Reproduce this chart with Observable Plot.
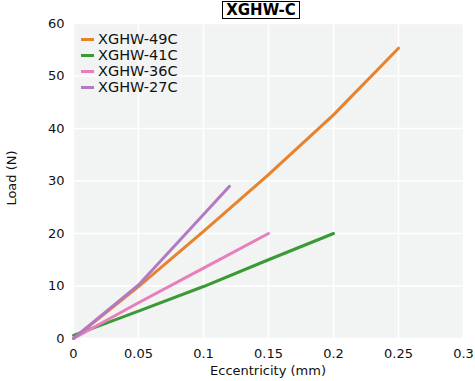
<!DOCTYPE html>
<html>
<head>
<meta charset="utf-8">
<script src="https://cdn.jsdelivr.net/npm/d3@7"></script>
<script src="https://cdn.jsdelivr.net/npm/@observablehq/plot@0.6"></script>
<style>
  html, body { margin: 0; padding: 0; background: white; }
  #wrap { position: relative; width: 475px; height: 381px; font-family: "DejaVu Sans", sans-serif; }
  #title { position: absolute; top: 1px; left: 222px; width: 76px; height: 16px; border: 1px solid #000;
           font: bold 15px "DejaVu Sans", sans-serif; line-height: 16px; text-align: center; color: #000; }
  #legend { position: absolute; left: 81px; top: 31px; font: 14.5px "DejaVu Sans", sans-serif; color: #111; }
  .row { height: 16px; line-height: 16px; display: flex; align-items: center; white-space: nowrap; }
  .sw { width: 13px; height: 3px; margin-right: 4px; }
  #xlabel { position: absolute; top: 363px; left: 73px; width: 390px; text-align: center; font: 13px "DejaVu Sans", sans-serif; color: #111; }
  #ylabel { position: absolute; left: 11px; top: 178px; transform: translate(-50%, -50%) rotate(-90deg); font: 13px "DejaVu Sans", sans-serif; color: #111; white-space: nowrap; }
</style>
</head>
<body>
<div id="wrap"></div>
<script>
const seriesNames = ["XGHW-49C", "XGHW-41C", "XGHW-36C", "XGHW-27C"];
const seriesColors = ["#e8822b", "#3a9a34", "#e87fbd", "#b27ac4"];

const ecc49 = [0, 0.05, 0.1, 0.15, 0.2, 0.25];
const load49 = [0, 9.9, 20.4, 31.2, 42.6, 55.3];
const ecc41 = [0, 0.05, 0.1, 0.15, 0.2];
const load41 = [0.6, 5.2, 9.9, 15.0, 20.0];
const ecc36 = [0, 0.05, 0.1, 0.15];
const load36 = [0, 6.8, 13.4, 20.0];
const ecc27 = [0, 0.05, 0.1, 0.12];
const load27 = [0, 10.2, 23.6, 29.0];

const xTicks = [0, 0.05, 0.1, 0.15, 0.2, 0.25, 0.3];
const yTicks = [0, 10, 20, 30, 40, 50, 60];
const titleText = "XGHW-C";
const xLabel = "Eccentricity (mm)";
const yLabel = "Load (N)";

const xs = [ecc49, ecc41, ecc36, ecc27];
const ys = [load49, load41, load36, load27];
const data = [];
seriesNames.forEach((name, i) => {
  xs[i].forEach((x, j) => data.push({series: name, x, y: ys[i][j]}));
});

const chart = Plot.plot({
  width: 475,
  height: 381,
  marginLeft: 73,
  marginRight: 12,
  marginTop: 23,
  marginBottom: 43,
  style: {fontFamily: "DejaVu Sans, sans-serif", fontSize: "13px", color: "#111", background: "white"},
  x: {domain: [0, 0.3], ticks: xTicks, tickFormat: d => String(d), tickSize: 0, tickPadding: 10, label: null},
  y: {domain: [0, 60], ticks: yTicks, tickFormat: d => String(d), tickSize: 0, tickPadding: 9, label: null},
  color: {domain: seriesNames, range: seriesColors},
  marks: [
    Plot.frame({fill: "#f2f3f3", stroke: "none"}),
    Plot.ruleX(xTicks, {stroke: "white", strokeWidth: 1.5}),
    Plot.ruleY(yTicks, {stroke: "white", strokeWidth: 1.5}),
    Plot.line(data, {x: "x", y: "y", z: "series", stroke: "series", strokeWidth: 3, strokeLinecap: "round", strokeLinejoin: "round"})
  ]
});

const wrap = document.getElementById("wrap");
wrap.appendChild(chart);

const t = document.createElement("div");
t.id = "title"; t.textContent = titleText; wrap.appendChild(t);

const lg = document.createElement("div");
lg.id = "legend";
seriesNames.forEach((n, i) => {
  const r = document.createElement("div"); r.className = "row";
  const s = document.createElement("span"); s.className = "sw"; s.style.background = seriesColors[i];
  const l = document.createElement("span"); l.textContent = n;
  r.appendChild(s); r.appendChild(l); lg.appendChild(r);
});
wrap.appendChild(lg);

const xl = document.createElement("div"); xl.id = "xlabel"; xl.textContent = xLabel; wrap.appendChild(xl);
const yl = document.createElement("div"); yl.id = "ylabel"; yl.textContent = yLabel; wrap.appendChild(yl);
</script>
</body>
</html>
